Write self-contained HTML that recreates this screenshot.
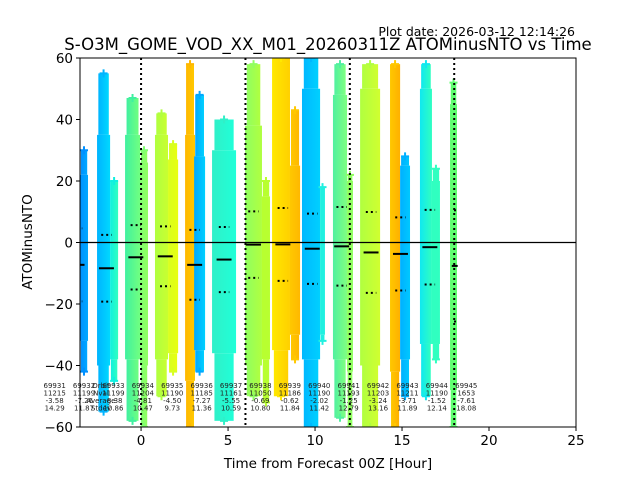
<!DOCTYPE html>
<html><head><meta charset="utf-8"><style>
body{margin:0;background:#fff;}
svg text{font-family:"DejaVu Sans","Liberation Sans",sans-serif;}
</style></head><body>
<svg id="chart" width="640" height="480" viewBox="0 0 640 480" xmlns="http://www.w3.org/2000/svg">
<defs><clipPath id="clip"><rect x="80" y="58" width="496" height="369"/></clipPath></defs>
<rect x="0" y="0" width="640" height="480" fill="#fff"/>
<text x="575" y="36" font-size="12.5" text-anchor="end" fill="#000">Plot date: 2026-03-12 12:14:26</text>
<text x="328" y="50" font-size="16.5" text-anchor="middle" fill="#000">S-O3M_GOME_VOD_XX_M01_20260311Z ATOMinusNTO vs Time</text>
<g id="strips" clip-path="url(#clip)"></g>
<g id="stats" clip-path="url(#clip)"></g>
<g id="labels"></g>
<g id="axes"></g>
<text x="328" y="468" font-size="13.5" text-anchor="middle">Time from Forecast 00Z [Hour]</text>
<text x="0" y="0" font-size="13.5" text-anchor="middle" transform="translate(32,242) rotate(-90)">ATOMinusNTO</text>
</svg>
<script>
// ---- data ----
const stripStart = [-3.51,-2.53,-1.78,-0.92,-0.06,0.80,1.55,2.53,3.05,4.08,5.98,6.95,7.53,8.56,9.25,10.29,11.03,11.84,12.59,14.31,14.89,16.03,16.72,17.76];
const stripEnd   = [-3.05,-1.78,-1.32,-0.06,0.40,1.55,2.13,3.10,3.68,5.46,6.95,7.41,8.56,9.14,10.29,10.57,11.84,12.18,13.74,14.89,15.46,16.72,17.18,18.16];
const stripMax   = [30,55,20,47,30,42,32,58,48,40,58,20,60,43,60,18,58,22,58,58,28,58,24,52];
const stripBodyTop=[22,35,20,35,26,35,27,35,28,30,38,15,60,25,50,18,48,20,50,58,25,50,20,45];
const stripBodyBot=[-32,-40,-38,-38,-40,-38,-36,-45,-35,-36,-40,-38,-35,-30,-38,-30,-38,-42,-40,-42,-38,-33,-33,-48];
const stripMin   = [-42,-55,-45,-58,-60,-50,-42,-60,-42,-58,-50,-52,-50,-38,-60,-32,-57,-60,-60,-60,-50,-50,-38,-60];
const colorA = ["#0090ff","#00b4ff","#10f0e0","#40f0a0","#80ff70","#b0ff40","#d8ff20","#ffb800","#00a8ff","#30f0c8","#90ff60","#b8ff30","#ffe800","#ffc800","#00b8ff","#20f0e0","#50f0a0","#90ff60","#b0ff40","#ffc800","#00b0ff","#10e8f0","#30ffc0","#60ff70"];
const colorB = ["#00a8ff","#00d8ff","#30ffc0","#70ff80","#90ff60","#c8ff30","#e8ff10","#ffc800","#00d0ff","#20ffd8","#b0ff40","#b8ff30","#ffd000","#ffb800","#00d0ff","#20f0e0","#80ff80","#90ff60","#d0ff30","#ffb000","#00c8ff","#30ffc0","#30ffc0","#60ff70"];
const orbits = ["69931","69932","69933","69934","69935","69936","69937","69938","69939","69940","69941","69942","69943","69944","69945"];
const orbitTime = [-5.37,-3.68,-1.99,-0.30,1.39,3.08,4.77,6.46,8.15,9.84,11.53,13.22,14.91,16.60,18.29];
const nvals = ["11215","11199","11199","11204","11190","11185","11161","11050","11186","11190","11193","11203","11211","11190","1653"];
const means = [-3.58,-7.26,-8.38,-4.81,-4.50,-7.27,-5.55,-0.69,-0.62,-2.02,-1.25,-3.24,-3.71,-1.52,-7.61];
const stds = [14.29,11.87,10.86,10.47,9.73,11.36,10.59,10.80,11.84,11.42,12.79,13.16,11.89,12.14,18.08];
const xTicks = [0,5,10,15,20,25];
const yTicks = [-60,-40,-20,0,20,40,60];
const forecastLines = [0,6,12,18];
const dataEnd = 18.2;
// ---- axes functions ----
const X0=80,X1=576,Y0=58,Y1=427,XMIN=-3.51,XMAX=25,YMIN=-60,YMAX=60;
const xs = h => X0 + (h-XMIN)/(XMAX-XMIN)*(X1-X0);
const ys = v => Y1 - (v-YMIN)/(YMAX-YMIN)*(Y1-Y0);
const NS="http://www.w3.org/2000/svg";
function mk(tag, attrs, parent){const e=document.createElementNS(NS,tag);for(const k in attrs)e.setAttribute(k,attrs[k]);parent.appendChild(e);return e;}
const svg=document.getElementById('chart');
const defs=svg.querySelector('defs');
const gS=document.getElementById('strips');
for(let i=0;i<stripStart.length;i++){
  const gid='g'+i;
  const lg=mk('linearGradient',{id:gid,x1:'0',x2:'1',y1:'0',y2:'0'},defs);
  mk('stop',{offset:'0','stop-color':colorA[i]},lg);
  mk('stop',{offset:'1','stop-color':colorB[i]},lg);
  const a=xs(stripStart[i]), b=xs(stripEnd[i]), w=b-a, m=(a+b)/2;
  const yT=ys(stripBodyTop[i]), yB=ys(stripBodyBot[i]), yMx=ys(stripMax[i]), yMn=ys(stripMin[i]);
  const body=mk('rect',{x:a,y:yT,width:w,height:yB-yT,fill:'url(#'+gid+')'},gS);
  
  
  const tailT=mk('rect',{x:m-w*0.4,y:yMx,width:w*0.8,height:Math.max(0,yT-yMx),fill:'url(#'+gid+')'},gS);
  
  
  const tailB=mk('rect',{x:m-w*0.4,y:yB,width:w*0.8,height:Math.max(0,yMn-yB),fill:'url(#'+gid+')'},gS);
  
  
  [[m,yMx],[m,yMn]].forEach(([px,py])=>{
    const t=mk('path',{d:`M${px-4},${py}h8M${px},${py-4}v8`,stroke:colorA[i],'stroke-width':'2'},gS);
    
    
  });
}
const gA=document.getElementById('axes');
forecastLines.forEach(h=>{
  const l=mk('line',{x1:xs(h),x2:xs(h),y1:Y0,y2:Y1,stroke:'#000','stroke-width':'2','stroke-dasharray':'2,3'},gA);
  
  
});
const z=mk('line',{x1:X0,x2:X1,y1:ys(0),y2:ys(0),stroke:'#000','stroke-width':'1.2'},gA);


const gT=document.getElementById('stats');
const gL=document.getElementById('labels');
for(let i=0;i<orbits.length;i++){
  const c=xs(orbitTime[i]), hw=xs(orbitTime[i]+0.43)-c;
  const l=c-hw, r=Math.min(c+hw, xs(dataEnd));
  const mb=mk('line',{x1:l,x2:r,y1:ys(means[i]),y2:ys(means[i]),stroke:'#000','stroke-width':'2'},gT);
  
  
  [means[i]+stds[i],means[i]-stds[i]].forEach((v,k)=>{
    const d=mk('line',{x1:c-hw*0.7,x2:Math.min(c+hw*0.7,xs(dataEnd)),y1:ys(v),y2:ys(v),stroke:'#000','stroke-width':'2','stroke-dasharray':'2,3'},gT);
    
    
  });
  const lines=[orbits[i],nvals[i],means[i].toFixed(2),stds[i].toFixed(2)];
  lines.forEach((s,k)=>{
    const t=mk('text',{x:c+7,y:388+k*7.5,'font-size':'7','text-anchor':'middle',fill:'#222'},gL);
    t.textContent=s;
    
    
  });
}
["Orbit","Nval","Average","Stdev"].forEach((s,k)=>{
  const t=mk('text',{x:101,y:388+k*7.5,'font-size':'7','text-anchor':'middle',fill:'#222'},gL);
  t.textContent=s;
  
  
});
const fr=mk('rect',{x:X0,y:Y0,width:X1-X0,height:Y1-Y0,fill:'none',stroke:'#000','stroke-width':'1'},gA);


xTicks.forEach(v=>{
  mk('line',{x1:xs(v),x2:xs(v),y1:Y1,y2:Y1+4,stroke:'#000'},gA);
  const t=mk('text',{x:xs(v),y:Y1+18,'font-size':'13.5','text-anchor':'middle'},gA);
  t.textContent=v;
  
  
});
yTicks.forEach(v=>{
  mk('line',{x1:X0-4,x2:X0,y1:ys(v),y2:ys(v),stroke:'#000'},gA);
  const t=mk('text',{x:X0-7,y:ys(v)+5,'font-size':'13.5','text-anchor':'end'},gA);
  t.textContent=v<0?'\u2212'+Math.abs(v):v;
  
  
});
</script>
</body></html>
